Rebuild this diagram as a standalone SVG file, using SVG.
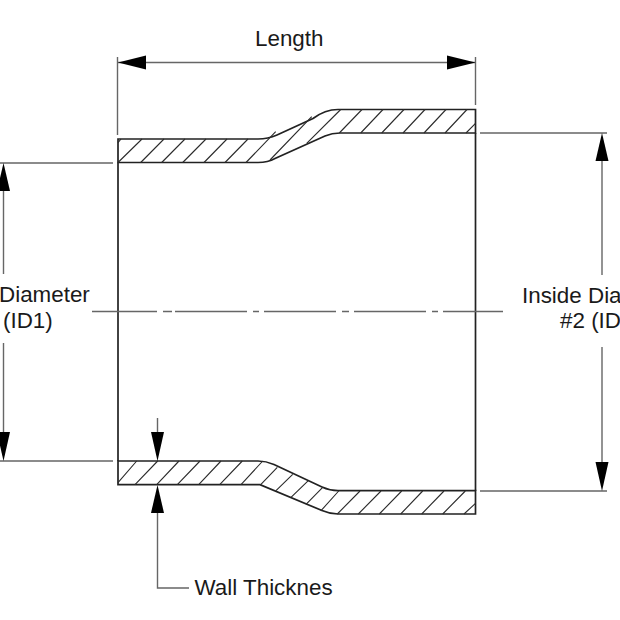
<svg xmlns="http://www.w3.org/2000/svg" width="620" height="620" viewBox="0 0 620 620">
<style>
.wall{fill:none;stroke:#222;stroke-width:1.7}
.hatch{fill:none;stroke:#2b2b2b;stroke-width:1.1}
.dim{fill:none;stroke:#666;stroke-width:1.4}
.head{fill:#000;stroke:none}
text{font-family:"Liberation Sans",Arial,sans-serif;font-size:22.4px;fill:#1a1a1a}
</style>
<rect width="620" height="620" fill="#fff"/>
<g id="pipe">
<path class="wall" d="M118 139H258Q268 139 277 135L313 118.500Q325 109.500 338 109.500H475.500V133H340Q332 133 325 136L275 158.500Q268 162.500 258 162.500H118Z"/>
<path class="wall" d="M118 162.500V461M475.500 133V491"/>
<path class="wall" d="M118 461H258Q266 461 274 464.500L322 487Q330 490.700 338 490.700H475.500V514H338Q330 514 322 510.500L260 484.700H118Z"/>
</g>
<g id="hatching">
<path class="hatch" d="M118 142.700L121 139M118 162.500L142 139M140.700 162.500L164 139M161.700 162.500L185 139M182.700 162.500L206 139M204 162.500L227 139M225 162.500L248 139M246 162.500L275.700 131.700M270 160L311.700 116.700M306.700 143.300L340.700 109.500M339.300 133L362 109.500M360.700 133L383 109.500M381.700 133L404 109.500M403 133L425 109.500M424 133L446 109.500M445 133L467 109.500M466 133L475.500 123.300"/>
<path class="hatch" d="M118 482.700L136.700 461M135 484.700L157.700 461M156.700 484.700L179 461M177.300 484.700L200 461M198.700 484.700L221 461M219.700 484.700L242.300 461M241 484.700L262.700 461M260.700 484.700L277.300 467.300M276 490.700L292.700 474.300M291 497.300L308.300 480.700M306 504.300L322.700 487.300M320.700 511L338.700 491M337.300 514L360 491M358.300 514L381 491M379.300 514L401.700 491M400.700 514L422.700 491M421.700 514L444 491M442.700 514L465.300 491M464 514L475.500 503.300"/>
</g>
<g id="connectors">
<path class="dim" d="M117.500 57V135M475.500 57V105M118 62.500H475.500"/>
<path class="dim" d="M0 163H113M0 461H113M3.500 191V274M3.500 343V432"/>
<path class="dim" d="M480 133H607M480 491H607M602 161V275M602 347V462"/>
<path class="dim" d="M92 311.500H157M163 311.500H172M175 311.500H247M253 311.500H259M264 311.500H336M342 311.500H349M354 311.500H426M432 311.500H438M443 311.500H503"/>
<path class="dim" d="M157.500 418V432M157.500 513V588H189"/>
<path class="head" d="M118 62.500L146 55.500V69.500Z"/>
<path class="head" d="M475.500 62.500L447 55.500V69.500Z"/>
<path class="head" d="M3.500 163L10 191H-3Z"/>
<path class="head" d="M3.500 461L10 432H-3Z"/>
<path class="head" d="M602 133L608.500 161H595.500Z"/>
<path class="head" d="M602 491L608.500 462H595.500Z"/>
<path class="head" d="M157.500 461L164 432H151Z"/>
<path class="head" d="M157.500 485L164 513H151Z"/>
</g>
<g id="labels">
<text x="255" y="45.500">Length</text>
<text x="-1" y="302">Diameter</text>
<text x="3" y="328">(ID1)</text>
<text x="522" y="303">Inside Dia</text>
<text x="560" y="328">#2 (ID</text>
<text x="194.500" y="595">Wall Thicknes</text>
</g>
</svg>
